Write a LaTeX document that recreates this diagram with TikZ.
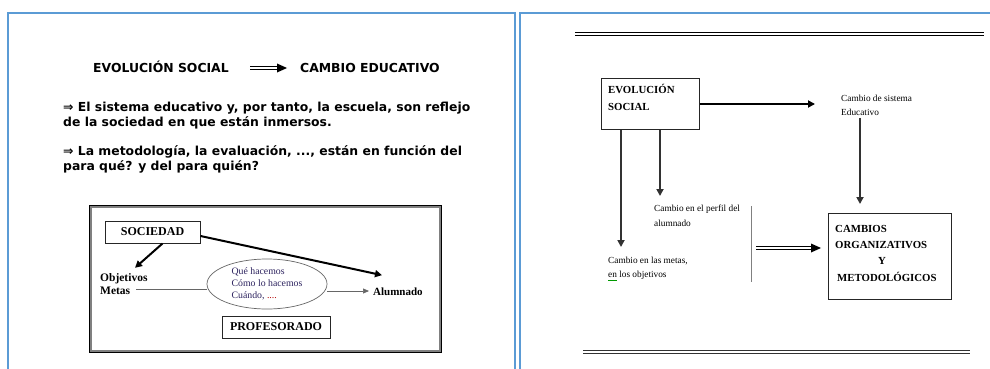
\documentclass[tikz,border=0pt]{standalone}
\usepackage{fontspec}
\setmainfont{Liberation Serif}
\newfontfamily\verd{DejaVu Sans}
\usetikzlibrary{arrows.meta,shapes.geometric,calc}
\definecolor{panelblue}{RGB}{91,155,213}
\definecolor{ellitext}{RGB}{45,35,95}
\definecolor{darkline}{RGB}{50,50,50}
\tikzset{
  panel/.style={draw=panelblue, line width=2pt},
  sanstext/.style={font=\verd\bfseries\fontsize{12.4}{15.5}\selectfont, anchor=base west, inner sep=0pt, align=left},
  serifbold/.style={font=\bfseries\fontsize{#1}{14}\selectfont, inner sep=0pt},
  small/.style={font=\fontsize{9.3}{#1}\selectfont, anchor=base west, inner sep=0pt, align=left, text=black},
  boxed/.style={draw=black!85, line width=1pt, fill=white},
  thickarrow/.style={line width=2pt, draw=black, -{Triangle[length=7pt,width=7pt]}},
  grayarrow/.style={line width=2pt, draw=darkline, -{Triangle[length=7pt,width=7pt]}},
  dblline/.style={draw=black, line width=0.9pt, double=white, double distance=1.6pt},
}
\begin{document}
\begin{tikzpicture}[x=1pt,y=-1pt]
\useasboundingbox (0,0) rectangle (990,369);
\fill[white] (0,0) rectangle (990,369);
% panels
\draw[panel] (8,371) -- (8,13) -- (515,13) -- (515,371);
\draw[panel] (520,371) -- (520,13) -- (992,13);

% ---------------- left panel -----------------
\node[sanstext] (evs) at (93,73) {EVOLUCIÓN SOCIAL};
\node[sanstext] (cae) at (300,73) {CAMBIO EDUCATIVO};
\coordinate (ta1) at (250,68);
\coordinate (ta2) at (287,68);
\draw[dblline] (ta1) -- ([xshift=-7pt]ta2);
\fill (ta2) -- ++(-10,-4.5) -- ++(0,9) -- cycle;

\node[sanstext] (p1) at (63,126.5) {⇒ El sistema educativo y, por tanto, la escuela, son reflejo\\de la sociedad en que están inmersos.};
\node[sanstext] (p2) at (63,170.5) {⇒ La metodología, la evaluación, ..., están en función del\\para qué? y del para quién?};

% inner frame
\draw[draw=gray, line width=2pt] (91,207) rectangle (440,351);
\draw[draw=black, line width=0.8pt] (89.5,205.5) rectangle (441.5,352.5);

\node[boxed, minimum width=95pt, minimum height=22pt, serifbold=12] (soc) at (152.5,232) {SOCIEDAD};
\node[boxed, minimum width=108pt, minimum height=22pt, serifbold=12] (prof) at (276,327) {PROFESORADO};
\node[serifbold=11.5, anchor=base west] (objn) at (100,281) {Objetivos};
\node[serifbold=11.5, anchor=base west] (metn) at (100,294) {Metas};
\node[serifbold=11, anchor=base west] (alum) at (373,295) {Alumnado};
\node[ellipse, draw=gray!80!black, line width=0.7pt, minimum width=120pt, minimum height=50pt, inner sep=0pt,
      align=left, text=ellitext, font=\fontsize{9.8}{12}\selectfont] (elli) at (267,284)
      {Qué hacemos\\Cómo lo hacemos\\Cuándo, \textcolor{red!70!black}{....}};

\coordinate (ml) at ([xshift=6pt,yshift=1pt]metn.east);
\coordinate (al) at ([xshift=-4pt,yshift=4pt]alum.base west);
\draw[draw=gray!80!black, line width=0.7pt] (ml) -- (ml -| elli.west);
\draw[draw=gray!80!black, line width=0.7pt, -{Triangle[length=6pt,width=5pt]}] (elli.east |- al) -- (al);
\draw[thickarrow] ([xshift=10pt]soc.south) -- ([xshift=35pt,yshift=5pt]objn.north west);
\draw[thickarrow] ([yshift=-4pt]soc.east) -- ([xshift=9pt,yshift=12pt]alum.north west);

% ---------------- right panel -----------------
\draw[line width=1pt] (575,32.5) -- (984,32.5);
\draw[line width=1pt] (575,35.5) -- (984,35.5);
\draw[line width=1pt, draw=darkline] (583,350) -- (970,350);
\draw[line width=1pt, draw=darkline] (583,353) -- (970,353);

\node[boxed, anchor=north west, minimum width=98pt, minimum height=51pt] (evo) at (601,78) {};
\node[anchor=north west, align=left, inner sep=0pt, font=\bfseries\fontsize{10.8}{17}\selectfont] (evot) at (608,84) {EVOLUCIÓN\\SOCIAL};

\node[boxed, anchor=north west, minimum width=123pt, minimum height=86pt] (cbox) at (828,213) {};
\node[anchor=north west, align=left, inner sep=0pt, font=\bfseries\fontsize{10.8}{16.3}\selectfont] (cboxt) at (835,225)
  {CAMBIOS\\ORGANIZATIVOS\\\hspace*{43pt}Y\\\hspace*{2pt}METODOLÓGICOS};

\node[small=14] (cds) at (841,115.5) {Cambio de sistema\\Educativo};
\node[small=15] (perf) at (654,226) {Cambio en el perfil del\\alumnado};
\node[small=14] (metas) at (608,277.5) {Cambio en las metas,\\en los objetivos};
\draw[green!60!black, line width=0.6pt] (608,280.5) -- (617,280.5);

\coordinate (ea) at ([xshift=-26pt]cds.base west |- evo.east);
\draw[thickarrow, line width=2.5pt] (evo.east) -- (ea);

\coordinate (v1) at (621,247);
\coordinate (v2) at (660,196);
\coordinate (v3) at (860,204);
\coordinate (v3s) at ([yshift=-2pt]cds.south);
\draw[grayarrow] (evo.south -| v1) -- (v1);
\draw[grayarrow] (evo.south -| v2) -- (v2);
\draw[grayarrow, line width=2.5pt] (v3 |- v3s) -- (v3);

\coordinate (sep1) at (751,206);
\coordinate (sep2) at (751,282);
\draw[draw=gray, line width=1pt] (sep1) -- (sep2);

\coordinate (da) at (756,248);
\coordinate (db) at ([xshift=-7pt]da -| cbox.west);
\draw[dblline] (da) -- ([xshift=-7pt]db);
\fill (db) -- ++(-10,-4.5) -- ++(0,9) -- cycle;
\end{tikzpicture}
\end{document}
